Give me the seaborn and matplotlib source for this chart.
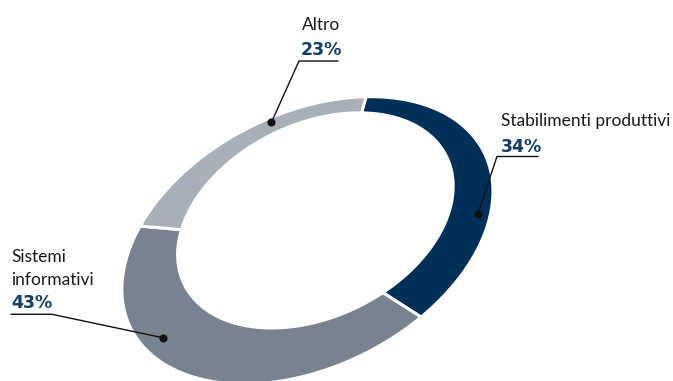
import numpy as np
import matplotlib
matplotlib.use("Agg")
import matplotlib.pyplot as plt
import matplotlib.transforms as mtransforms
from matplotlib.path import Path
import seaborn as sns

# ---- data -------------------------------------------------------------
categories = ["Stabilimenti produttivi", "Sistemi\ninformativi", "Altro"]
shares = [34, 43, 23]
colors = ["#003057", "#78838f", "#a8afb8"]

# ---- label layout (pixel coordinates, y downwards) --------------------
label_x = [501, 11, 301.5]
label_baseline = [126, 261.7, 29.5]
pct_x = [501, 11, 300.5]
pct_baseline = [151.5, 308.3, 55]
rule_y = [156.5, 314.3, 61]
rule_x = [(497, 538), (52, 11), (299, 338)]   # elbow end first
LINE_STEP = 23.4

W, H = 673, 381
INNER = 0.75            # inner radius of the ring (outer radius = 1)
ANCHOR_FRAC = 0.36      # where along each slice the leader dot sits
ANCHOR_DEPTH = 0.71     # 0 = inner rim, 1 = outer rim

# Tilted ring: each rim is a projective view of the unit circle.
OUTER_RIM = [[172.034, 57.6975, 304.931],
             [-4.87862, -145.839, 241.695],
             [-0.0109064, -0.00920666, 1.0]]
INNER_RIM = [[130.914, -23.2068, 307.355],
             [3.08088, -154.709, 243.428],
             [0.0112603, -0.213888, 1.0]]


class RingView(mtransforms.Transform):
    """Map pie coordinates onto a tilted ring between two projected rims."""
    input_dims = output_dims = 2

    def __init__(self, outer, inner, r_in):
        super().__init__()
        self.outer = np.asarray(outer, float)
        self.inner = np.asarray(inner, float)
        self.r_in = r_in

    @staticmethod
    def _project(m, uv):
        q = np.column_stack([uv, np.ones(len(uv))]) @ m.T
        return q[:, :2] / q[:, 2:3]

    def transform_non_affine(self, values):
        xy = np.asarray(values, float).reshape(-1, 2)
        rho = np.hypot(xy[:, 0], xy[:, 1])
        uv = xy / np.where(rho == 0, 1, rho)[:, None]
        s = ((rho - self.r_in) / (1 - self.r_in))[:, None]
        return s * self._project(self.outer, uv) + (1 - s) * self._project(self.inner, uv)

    def transform_path_non_affine(self, path):
        # flatten the Bezier arcs before projecting them
        verts, codes = [], []
        for seg, code in path.iter_bezier():
            if code == Path.MOVETO:
                verts.append(seg.control_points[0])
                codes.append(Path.MOVETO)
                continue
            pts = seg(np.linspace(0, 1, 41)[1:])
            verts.extend(pts)
            codes.extend([Path.LINETO] * len(pts))
            if code == Path.CLOSEPOLY:
                codes[-1] = Path.CLOSEPOLY
        return Path(self.transform_non_affine(np.array(verts)), codes)


sns.set_theme(style="white")
plt.rcParams["font.family"] = ["Lato", "DejaVu Sans"]

fig = plt.figure(figsize=(W / 100, H / 100), dpi=100)
ax = fig.add_axes([0, 0, 1, 1])
view = RingView(OUTER_RIM, INNER_RIM, INNER)

wedges, _ = ax.pie(shares, colors=colors, startangle=90, counterclock=False,
                   radius=1.0,
                   wedgeprops=dict(width=1 - INNER, edgecolor="white", linewidth=2.2))
for w in wedges:
    w.set_transform(view + ax.transData)

ax.set_xlim(0, W)
ax.set_ylim(H, 0)
ax.axis("off")

label_style = dict(fontsize=12.5, color="#1a1a1a")
pct_style = dict(fontsize=12.5, color="#123d66", fontweight="bold", family="DejaVu Sans")

for i, w in enumerate(wedges):
    a = np.radians(w.theta1 + ANCHOR_FRAC * (w.theta2 - w.theta1))
    rr = INNER + ANCHOR_DEPTH * (1 - INNER)
    dot = view.transform_non_affine([[rr * np.cos(a), rr * np.sin(a)]])[0]

    x0, x1 = rule_x[i]
    ax.plot([dot[0], x0, x1], [dot[1], rule_y[i], rule_y[i]],
            color="#111111", lw=1.0, solid_joinstyle="miter", zorder=4)
    ax.scatter([dot[0]], [dot[1]], s=34, color="#111111", zorder=5, linewidths=0)

    for k, line in enumerate(categories[i].split("\n")):
        ax.text(label_x[i], label_baseline[i] + k * LINE_STEP, line,
                va="baseline", ha="left", **label_style)
    ax.text(pct_x[i], pct_baseline[i], f"{shares[i]}%",
            va="baseline", ha="left", **pct_style)

fig.savefig("out.png", dpi=100)
